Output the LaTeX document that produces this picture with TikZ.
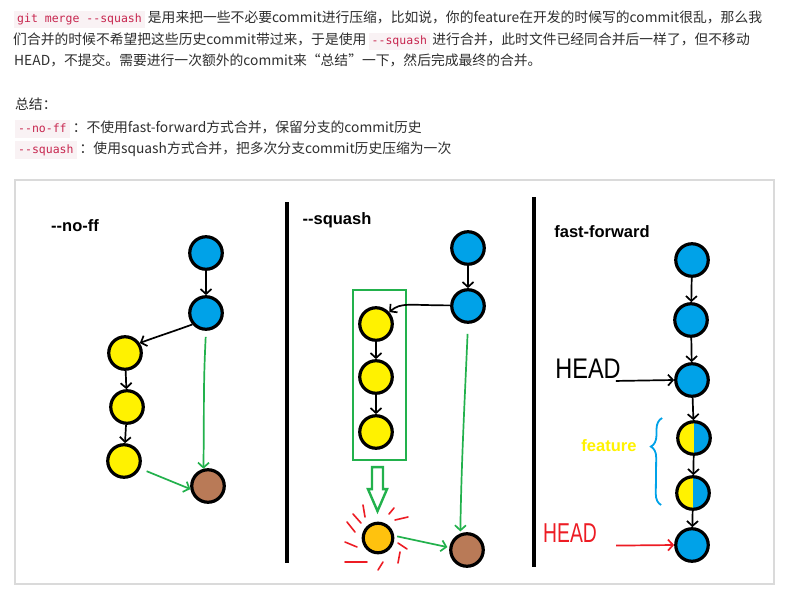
\documentclass[tikz,border=0pt]{standalone}
\usepackage{fontspec}
\usepackage{graphicx}
\setmainfont{Noto Sans CJK SC}
\newfontfamily\codefont{DejaVu Sans Mono}
\newfontfamily\labelfont{Liberation Sans}
\newfontfamily\handfont{Liberation Sans}
\usetikzlibrary{arrows.meta, positioning, fit, calc, decorations.pathreplacing}
\definecolor{gblue}{HTML}{00A2E8}
\definecolor{gyellow}{HTML}{FFF200}
\definecolor{gbrown}{HTML}{B97A57}
\definecolor{ggold}{HTML}{FFC20E}
\definecolor{ggreen}{HTML}{22B14C}
\definecolor{gred}{HTML}{ED1C24}
\definecolor{codefg}{HTML}{C7254E}
\definecolor{codebg}{HTML}{F9F2F4}
\definecolor{bodytxt}{HTML}{2E2E2E}
\definecolor{framegrey}{HTML}{DADADA}
\newcommand{\inlinecode}[1]{{\setlength{\fboxsep}{3pt}%
  \colorbox{codebg}{\codefont\fontsize{11.5}{13}\selectfont\color{codefg}\rule[-2.5pt]{0pt}{11.5pt}#1}}}
\tikzset{
  bodyline/.style={anchor=base west, inner sep=0pt, text=bodytxt,
    font=\fontsize{13.8}{16}\selectfont},
  mode/.style={font=\labelfont\bfseries\fontsize{16.5}{18}\selectfont, inner sep=0pt},
  commit/.style={circle, draw=black, line width=3.2pt, minimum size=32.5pt, inner sep=0pt},
  trunk/.style={commit, fill=gblue},
  topic/.style={commit, fill=gyellow},
  merged/.style={commit, fill=gbrown},
  squashed/.style={commit, fill=ggold, minimum size=29.5pt},
  ffcommit/.style={commit, fill=gyellow,
    path picture={\fill[gblue] (path picture bounding box.north)
      rectangle (path picture bounding box.south east);}},
  link/.style={-{Straight Barb[length=5pt, width=11pt]}, draw=black, line width=1.7pt},
  mergelink/.style={link, draw=ggreen},
  headlink/.style={link, draw=gred},
  headtxt/.style={font=\handfont\fontsize{21}{21}\selectfont, inner sep=1pt},
  ray/.style={draw=gred, line width=1.6pt, line cap=round},
  divider/.style={draw=black, line width=3.8pt},
  squashto/.style={draw=ggreen, line width=2.4pt, fill=white, line join=miter},
}
\begin{document}
\begin{tikzpicture}[x=1pt, y=-1pt]
  \fill[white] (0,0) rectangle (787,602);
  \useasboundingbox (0,0) rectangle (787,602);
  % explanation text
  \node[bodyline] (intro1) at (14,23)
    {\inlinecode{git merge -{}-squash} 是用来把一些不必要commit进行压缩，比如说，你的feature在开发的时候写的commit很乱，那么我};
  \node[bodyline] (intro2) at (13,45)
    {们合并的时候不希望把这些历史commit带过来，于是使用\,\inlinecode{-{}-squash}\,进行合并，此时文件已经同合并后一样了，但不移动};
  \node[bodyline] (intro3) at (14,66)
    {HEAD，不提交。需要进行一次额外的commit来“总结”一下，然后完成最终的合并。};
  \node[bodyline] (sumhead) at (15,109) {总结：};
  \node[bodyline] (sumnoff) at (15,132)
    {\inlinecode{-{}-no-ff} ：不使用fast-forward方式合并，保留分支的commit历史};
  \node[bodyline] (sumsquash) at (15,153)
    {\inlinecode{-{}-squash} ：使用squash方式合并，把多次分支commit历史压缩为一次};

  % picture frame and dividers
  \draw[framegrey, line width=1.3pt] (15,180) rectangle (774,584);
  \draw[divider] (287,202) -- (287,563);
  \draw[divider] (534,197) -- (534,567);

  % --no-ff
  \node[mode] (noff) at (75,226) {-{}-no-ff};
  \node[trunk]  (p1) at (206,253) {};
  \node[trunk]  (p2) at (206,313) {};
  \node[topic]  (y1) at (125,353) {};
  \node[topic]  (y2) at (127,407) {};
  \node[topic]  (y3) at (124,461) {};
  \node[merged] (pm) at (208,486) {};
  \draw[link] (p1) -- (p2);
  \draw[link] (p2.220) .. controls +(-22,8) and +(16,-6) .. (y1.34);
  \draw[link] (y1) -- (y2);
  \draw[link] (y2) -- (y3);
  \draw[mergelink, shorten <=6pt] (p2.south) .. controls +(-3,60) and +(1,-60) .. (pm.105);
  \draw[mergelink, shorten <=7pt] (y3.-25) -- (pm.190);

  % --squash
  \node[mode] (squash) at (337,220) {-{}-squash};
  \node[trunk] (sb1) at (468,248) {};
  \node[trunk] (sb2) at (468,306) {};
  \node[topic] (sq1) at (376,324) {};
  \node[topic] (sq2) at (376,377) {};
  \node[topic] (sq3) at (376,432) {};
  \node[fit=(sq1)(sq3), draw=ggreen, line width=2.6pt, inner xsep=8.5pt,
        inner ysep=13pt, xshift=3.5pt, yshift=3pt] (squashbox) {};
  \node[squashed] (gold) at (378,538) {};
  \node[merged]   (sm)   at (467,550) {};
  \draw[link] (sb1) -- (sb2);
  \draw[link] (sb2.178) .. controls +(-42,0) and +(12,-10) .. (sq1.42);
  \draw[link] (sq1) -- (sq2);
  \draw[link] (sq2) -- (sq3);
  \draw[squashto] ($(squashbox.south)+(-7.5,6)$) -- ++(0,22) -- ++(-4,0)
    -- ++(9.5,22) -- ++(9.5,-22) -- ++(-4,0) -- ++(0,-22) -- cycle;
  \foreach \xa/\ya/\xb/\yb in {-31/-16/-23/-6, -25/-24/-17/-15, -15/-33/-13/-21,
      11/-24/16/-30, 17/-18/30/-21, 20/5/29/11, 22/14/20/25, 0/32/5/24,
      -33/24/-11/24, -33/4/-21/9}
    \draw[ray] ($(gold)+(\xa,\ya)$) -- ($(gold)+(\xb,\yb)$);
  \draw[mergelink, shorten <=10pt, shorten >=2pt] (sb2.south)
    .. controls +(-3,70) and +(1,-70) .. (sm.112);
  \draw[mergelink, shorten <=3pt, shorten >=2pt] (gold.8) -- (sm.172);

  % fast-forward
  \node[mode] (ffwd) at (602,232) {fast-forward};
  \node[trunk]    (ff1) at (692,260) {};
  \node[trunk]    (ff2) at (691,320) {};
  \node[trunk]    (ff3) at (692,380) {};
  \node[ffcommit] (ff4) at (694,438) {};
  \node[ffcommit] (ff5) at (693,493) {};
  \node[trunk]    (ff6) at (692,545) {};
  \draw[link] (ff1) -- (ff2);
  \draw[link] (ff2) -- (ff3);
  \draw[link] (ff3) -- (ff4);
  \draw[link] (ff4) -- (ff5);
  \draw[link] (ff5) -- (ff6);
  \node[headtxt] (headold) at (588,369) {\scalebox{1.12}[1.35]{HEAD}};
  \draw[link] ($(headold.south east)+(-6,1)$) -- (ff3.west);
  \node[headtxt, text=gred] (headnew) at (570,533) {\scalebox{0.92}[1.3]{HEAD}};
  \draw[headlink] ($(headnew.south east)+(18,2)$) -- (ff6.west);
  \draw[draw=gblue, line width=1.8pt, decorate,
        decoration={brace, amplitude=11pt, aspect=0.67}]
    ($(ff5.west)+(-14,12)$) -- ($(ff4.west)+(-14,-20)$);
  \node[mode, text=gyellow] (feature) at (609,446) {feature};
\end{tikzpicture}
\end{document}
